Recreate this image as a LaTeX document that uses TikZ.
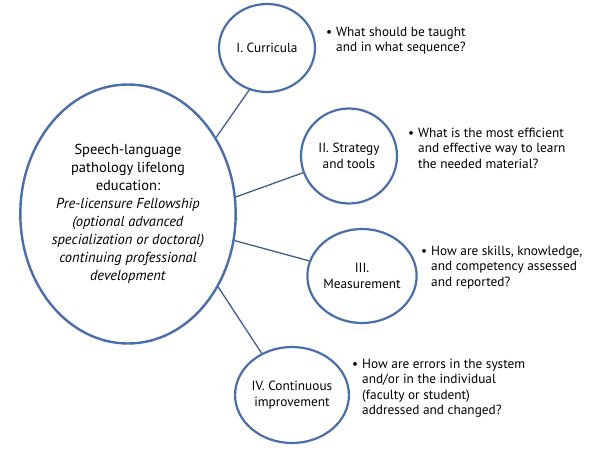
\documentclass[tikz,border=0pt]{standalone}
\usepackage{fontspec}
\setmainfont{PT Sans}
\usetikzlibrary{shapes.geometric}
\definecolor{rim}{HTML}{4A6EAA}
\definecolor{wire}{HTML}{3E5F96}
\tikzset{
  hub/.style={ellipse, draw=rim, line width=2.4pt, fill=white, align=center,
    inner sep=0pt, font=\fontsize{14.5}{18}\selectfont},
  topic/.style={ellipse, draw=rim, line width=2.2pt, fill=white, align=center,
    inner sep=0pt, font=\fontsize{13.3}{15.5}\selectfont},
  link/.style={draw=wire, line width=1.3pt},
  question/.style={anchor=base west, inner sep=0pt, font=\fontsize{13.3}{15.5}\selectfont}
}
\newcommand{\qlist}[1]{\begin{tabular}[t]{@{}l@{}l@{}}\makebox[10pt][l]{\textbullet}&#1\end{tabular}}
\begin{document}
\begin{tikzpicture}[x=1pt,y=-1pt]
    \useasboundingbox (0,0) rectangle (600,450);

    \node[hub, minimum width=208pt, minimum height=259pt] (edu) at (128,214)
        {Speech-language\\pathology lifelong\\education:\\
         \textit{Pre-licensure Fellowship}\\\textit{(optional advanced}\\
         \textit{specialization or doctoral)}\\\textit{continuing professional}\\
         \textit{development}};

    \node[topic, minimum width=96pt, minimum height=88pt] (curr) at (267,48) {I. Curricula};
    \node[topic, minimum width=96pt, minimum height=95pt] (strat) at (349,156) {II. Strategy\\and tools};
    \node[topic, minimum width=96pt, minimum height=94pt] (meas) at (362,276) {III.\\Measurement};
    \node[topic, minimum width=94pt, minimum height=96pt] (impr) at (292,395) {IV. Continuous\\improvement};

    \draw[link] (edu.41) -- (curr.247);
    \draw[link] (edu.9) -- (strat.200);
    \draw[link] (edu.-14) -- (meas.164);
    \draw[link] (edu.-39) -- (impr.126);

    \node[question] (q1) at (326,36) {\qlist{What should be taught\\& and in what sequence?}};
    \node[question] (q2) at (408,137) {\qlist{What is the most efficient\\& and effective way to learn\\& the needed material?}};
    \node[question] (q3) at (421,255) {\qlist{How are skills, knowledge,\\& and competency assessed\\& and reported?}};
    \node[question] (q4) at (352,368) {\qlist{How are errors in the system\\& and/or in the individual\\& (faculty or student)\\& addressed and changed?}};

\end{tikzpicture}
\end{document}
